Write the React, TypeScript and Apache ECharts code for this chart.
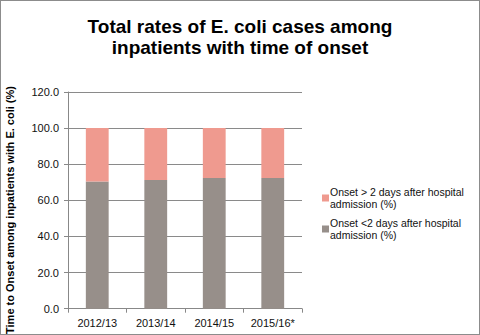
import React, { useEffect, useRef } from "react";
import * as echarts from "echarts";

const categories = ["2012/13", "2013/14", "2014/15", "2015/16*"];
const earlyOnset = [70.5, 71.3, 72.4, 72.4];
const lateOnset = [29.5, 28.7, 27.6, 27.6];
const seriesNames = [
  "Onset <2 days after hospital admission (%)",
  "Onset > 2 days after hospital admission (%)",
];
const legendLabels: Record<string, string> = {
  "Onset <2 days after hospital admission (%)": "Onset <2 days after hospital\nadmission (%)",
  "Onset > 2 days after hospital admission (%)": "Onset > 2 days after hospital\nadmission (%)",
};
const yAxisTitle = "Time to Onset among inpatients with E. coli (%)";

export default function App() {
  const ref = useRef<HTMLDivElement>(null);
  useEffect(() => {
    if (!ref.current) return;
    const chart = echarts.init(ref.current, undefined, { renderer: "svg" });
    const font = "Liberation Sans, Arial, sans-serif";
    chart.setOption({
      animation: false,
      backgroundColor: "#ffffff",
      title: {
        text: "Total rates of E. coli cases among\ninpatients with time of onset",
        left: "center",
        top: 10,
        textStyle: {
          fontFamily: font,
          fontSize: 19,
          fontWeight: "bold",
          color: "#000",
          lineHeight: 21,
        },
      },
      graphic: [
        {
          type: "text",
          x: 9,
          y: 209,
          rotation: Math.PI / 2,
          style: {
            text: yAxisTitle,
            fontFamily: font,
            fontSize: 11,
            fontWeight: "bold",
            fill: "#000",
            align: "center",
            verticalAlign: "middle",
          },
        },
      ],
      grid: { left: 67, right: 177, top: 91, bottom: 25.3 },
      legend: {
        orient: "vertical",
        left: 316,
        top: 180,
        data: [seriesNames[1], seriesNames[0]],
        itemWidth: 7,
        itemHeight: 7,
        itemGap: 7,
        icon: "rect",
        formatter: (n: string) => legendLabels[n] || n,
        textStyle: { fontFamily: font, fontSize: 10.5, color: "#111", lineHeight: 12, padding: [0, 0, 0, -4] },
      },
      xAxis: {
        type: "category",
        data: categories,
        axisLine: { lineStyle: { color: "#888", width: 1 } },
        axisTick: { show: true, alignWithLabel: false, length: 4, lineStyle: { color: "#888" } },
        axisLabel: { interval: 0, fontFamily: font, fontSize: 11, color: "#111", margin: 9 },
      },
      yAxis: {
        type: "value",
        min: 0,
        max: 120,
        interval: 20,
        axisLine: { show: true, lineStyle: { color: "#888" } },
        axisTick: { show: true, length: 4, lineStyle: { color: "#888" } },
        axisLabel: {
          fontFamily: font,
          fontSize: 11,
          color: "#111",
          margin: 9,
          formatter: (v: number) => v.toFixed(1),
        },
        splitLine: { lineStyle: { color: "#8a8a8a", width: 1 } },
      },
      series: [
        {
          name: seriesNames[0],
          type: "bar",
          stack: "total",
          data: earlyOnset,
          barWidth: "39%",
          itemStyle: { color: "#978f8a" },
        },
        {
          name: seriesNames[1],
          type: "bar",
          stack: "total",
          data: lateOnset,
          barWidth: "39%",
          itemStyle: { color: "#ef9a8f" },
        },
      ],
    });
    return () => chart.dispose();
  }, []);
  return (
    <div
      style={{
        position: "absolute",
        left: 0,
        top: 0,
        width: 480,
        height: 335,
        boxSizing: "border-box",
        border: "1px solid #8c8c8c",
        background: "#fff",
      }}
    >
      <div ref={ref} style={{ width: 478, height: 333 }} />
    </div>
  );
}
